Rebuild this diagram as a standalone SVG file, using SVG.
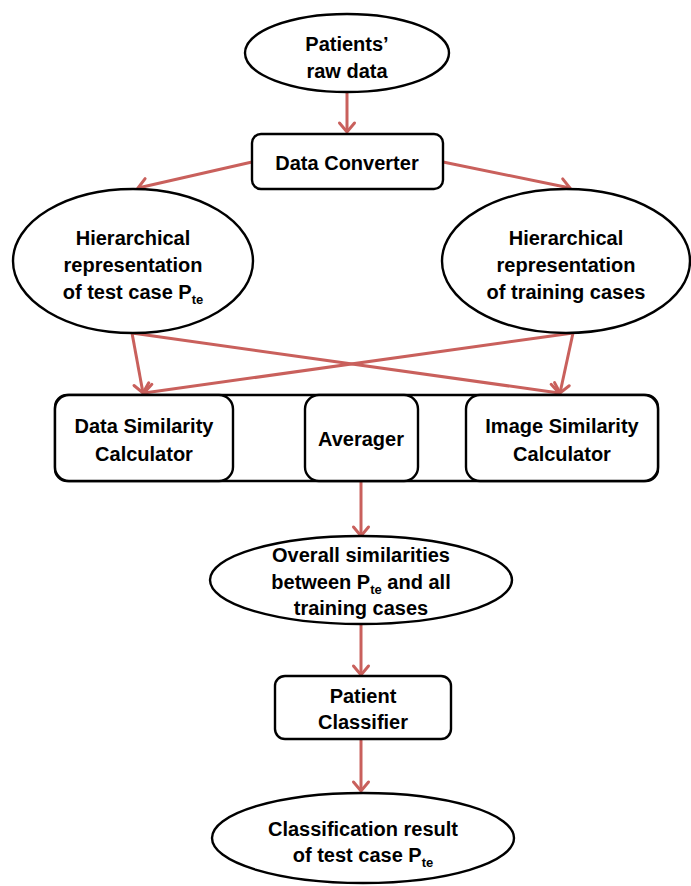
<svg xmlns="http://www.w3.org/2000/svg" width="691" height="886" viewBox="0 0 691 886">
<defs>
<style>
.n{fill:#fff;stroke:#000;stroke-width:2.4}
.t{font-family:"Liberation Sans",Arial,sans-serif;font-weight:bold;font-size:20px;fill:#000;text-anchor:middle}
.s{font-size:13px}
.c{stroke:#C9605C;stroke-width:3;fill:none}
</style>
<marker id="ah" markerUnits="userSpaceOnUse" markerWidth="24" markerHeight="24" viewBox="-12 -12 24 24" refX="0" refY="0" orient="auto">
<path d="M-9,-7.5 L0,0 L-9,7.5" fill="none" stroke="#C9605C" stroke-width="3" stroke-linecap="round"/>
</marker>
</defs>
<rect width="691" height="886" fill="#fff"/>
<g id="connectors">
<line class="c" x1="347" y1="92" x2="347" y2="132" marker-end="url(#ah)"/>
<line class="c" x1="252" y1="162" x2="138" y2="188" marker-end="url(#ah)"/>
<line class="c" x1="443" y1="162" x2="570" y2="188" marker-end="url(#ah)"/>
<line class="c" x1="132" y1="333" x2="143" y2="393" marker-end="url(#ah)"/>
<line class="c" x1="132" y1="333" x2="559" y2="393" marker-end="url(#ah)"/>
<line class="c" x1="573" y1="333" x2="144" y2="393" marker-end="url(#ah)"/>
<line class="c" x1="573" y1="333" x2="560" y2="393" marker-end="url(#ah)"/>
<line class="c" x1="233" y1="437" x2="303" y2="437" marker-end="url(#ah)"/>
<line class="c" x1="466" y1="437" x2="420" y2="437" marker-end="url(#ah)"/>
<line class="c" x1="361" y1="481" x2="361" y2="536" marker-end="url(#ah)"/>
<line class="c" x1="361" y1="624" x2="361" y2="675" marker-end="url(#ah)"/>
<line class="c" x1="361" y1="739" x2="361" y2="791" marker-end="url(#ah)"/>
</g>
<g id="patients-raw-data">
<ellipse class="n" cx="347" cy="53" rx="102" ry="39"/>
<text class="t" x="347" y="51">Patients’</text>
<text class="t" x="347" y="78">raw data</text>
</g>
<g id="data-converter">
<rect class="n" x="252" y="134" width="191" height="55" rx="9"/>
<text class="t" x="347" y="170">Data Converter</text>
</g>
<g id="hier-test">
<ellipse class="n" cx="133" cy="261" rx="120" ry="72"/>
<text class="t" x="133" y="245">Hierarchical</text>
<text class="t" x="133" y="272">representation</text>
<text class="t" x="133" y="299">of test case P<tspan class="s" dy="5">te</tspan></text>
</g>
<g id="hier-training">
<ellipse class="n" cx="566" cy="261" rx="124" ry="72"/>
<text class="t" x="566" y="245">Hierarchical</text>
<text class="t" x="566" y="272">representation</text>
<text class="t" x="566" y="299">of training cases</text>
</g>
<g id="row-frame">
<rect class="n" x="55" y="395" width="603" height="86" rx="12"/>
</g>
<g id="data-similarity">
<rect class="n" x="55" y="395" width="178" height="86" rx="14"/>
<text class="t" x="144" y="433">Data Similarity</text>
<text class="t" x="144" y="461">Calculator</text>
</g>
<g id="averager">
<rect class="n" x="305" y="395" width="113" height="86" rx="14"/>
<text class="t" x="361" y="446">Averager</text>
</g>
<g id="image-similarity">
<rect class="n" x="466" y="395" width="192" height="86" rx="14"/>
<text class="t" x="562" y="433">Image Similarity</text>
<text class="t" x="562" y="461">Calculator</text>
</g>
<g id="overall">
<ellipse class="n" cx="361" cy="580" rx="151" ry="44"/>
<text class="t" x="361" y="562">Overall similarities</text>
<text class="t" x="361" y="589">between P<tspan class="s" dy="5">te</tspan><tspan dy="-5"> and all</tspan></text>
<text class="t" x="361" y="615">training cases</text>
</g>
<g id="patient-classifier">
<rect class="n" x="275" y="676" width="176" height="63" rx="10"/>
<text class="t" x="363" y="703">Patient</text>
<text class="t" x="363" y="729">Classifier</text>
</g>
<g id="classification-result">
<ellipse class="n" cx="363" cy="838" rx="151" ry="45"/>
<text class="t" x="363" y="836">Classification result</text>
<text class="t" x="363" y="862">of test case P<tspan class="s" dy="5">te</tspan></text>
</g>
</svg>
